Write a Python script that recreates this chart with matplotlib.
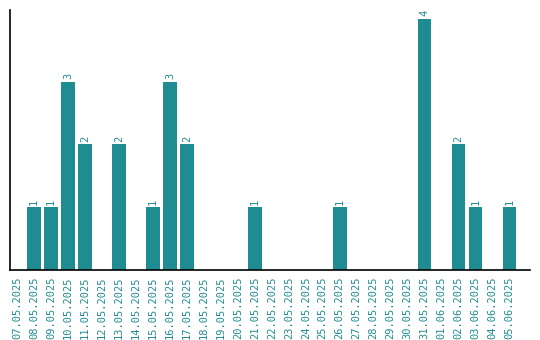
import matplotlib
matplotlib.use("Agg")
from matplotlib import pyplot as plt

dates = ["07.05.2025", "08.05.2025", "09.05.2025", "10.05.2025", "11.05.2025",
         "12.05.2025", "13.05.2025", "14.05.2025", "15.05.2025", "16.05.2025",
         "17.05.2025", "18.05.2025", "19.05.2025", "20.05.2025", "21.05.2025",
         "22.05.2025", "23.05.2025", "24.05.2025", "25.05.2025", "26.05.2025",
         "27.05.2025", "28.05.2025", "29.05.2025", "30.05.2025", "31.05.2025",
         "01.06.2025", "02.06.2025", "03.06.2025", "04.06.2025", "05.06.2025"]
counts = [0, 1, 1, 3, 2, 0, 2, 0, 1, 3, 2, 0, 0, 0, 1,
          0, 0, 0, 0, 1, 0, 0, 0, 0, 4, 0, 2, 1, 0, 1]

color = "#1f8c91"
font = "DejaVu Sans Mono"

fig = plt.figure(figsize=(5.4, 3.4), dpi=100)
ax = fig.add_axes([10 / 540, 70 / 340, 520 / 540, 260 / 340])

x = list(range(len(dates)))
ax.bar(x, counts, width=0.8, color=color)

for i, c in enumerate(counts):
    if c > 0:
        ax.text(i, c + 0.04, str(c), rotation=90, ha="center", va="bottom",
                color=color, fontsize=7.5, family=font)

ax.set_xticks(x)
ax.set_xticklabels(dates, rotation=90, color=color, fontsize=7.5, family=font)
ax.tick_params(axis="x", length=0, pad=5)
ax.set_yticks([])
ax.set_xlim(-0.41, 30.2)
ax.set_ylim(0, 4.14)
for s in ["top", "right"]:
    ax.spines[s].set_visible(False)
ax.spines["left"].set_linewidth(1.2)
ax.spines["bottom"].set_linewidth(1.2)

fig.savefig("out.png", dpi=100)
